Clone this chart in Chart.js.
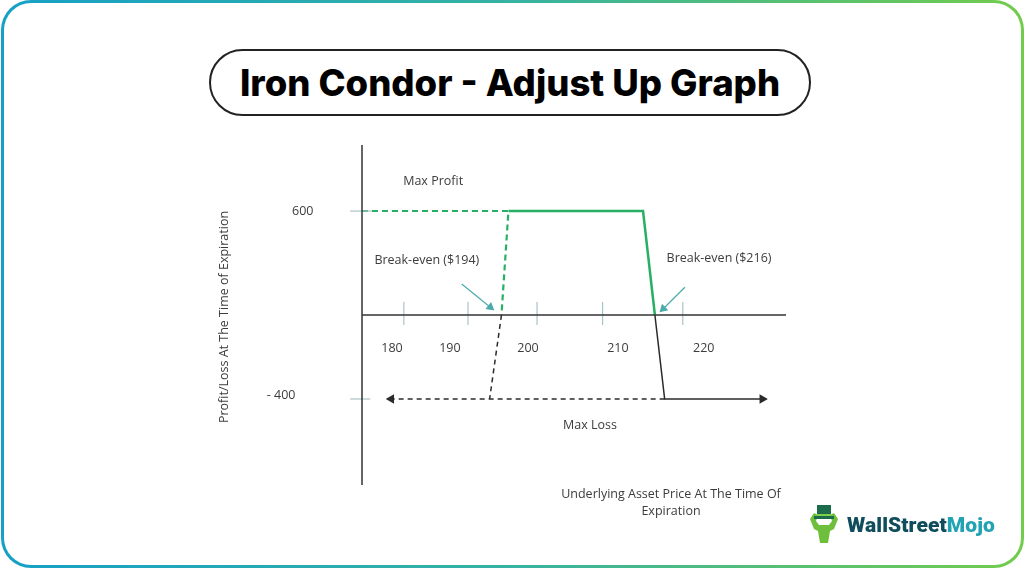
<!DOCTYPE html>
<html>
<head>
<meta charset="utf-8">
<title>Iron Condor - Adjust Up Graph</title>
<script src="https://cdn.jsdelivr.net/npm/chart.js@4.4.1/dist/chart.umd.min.js"></script>
<style>
  html, body { margin: 0; padding: 0; background: #fff; }
  body { width: 1024px; height: 569px; position: relative; overflow: hidden; }
  #frame { position: absolute; left: 1px; top: 0px; width: 1023px; height: 568px; box-sizing: border-box;
    border-radius: 30px; padding: 3px; background: linear-gradient(90deg, #16a0c6 0%, #37b2a2 50%, #72cc4c 100%); }
  #frame div { width: 100%; height: 100%; background: #fff; border-radius: 27px; }
  #title { position: absolute; left: 209px; top: 49px; width: 602px; height: 67px; box-sizing: border-box;
    border: 2px solid #222; border-radius: 34px; display: flex; align-items: center; justify-content: center;
    font-family: Inter, "Open Sans", sans-serif; font-weight: 800; font-size: 36.5px; color: #000; }
  #wrap { position: absolute; left: 0; top: 0; width: 1024px; height: 569px; }
  #logo { position: absolute; left: 804px; top: 503px; height: 44px; display: flex; align-items: center; }
  #logo svg { margin-right: 3px; }
  #logo span { font-family: Roboto, Inter, sans-serif; font-weight: 900; font-size: 21px; letter-spacing: 0.1px; }
  #logo .a { color: #0f4d5c; }
  #logo .b { color: #21a3b3; }
</style>
</head>
<body>
<div id="frame"><div></div></div>
<div id="title">Iron Condor - Adjust Up Graph</div>
<div id="wrap"><canvas id="grafico" width="1024" height="569"></canvas></div>
<div id="logo">
  <svg width="40" height="44" viewBox="0 0 40 44">
    <path d="M6 16 L10 10 L14 12 L12 18 L15 22 L25 22 L28 18 L26 12 L30 10 L34 16 L30 26 L26 28 L24 40 L16 40 L14 28 L10 26 Z" fill="#6dbf3c"/>
    <rect x="13" y="2" width="14" height="12" fill="#1c6b4a"/>
    <rect x="10" y="13" width="20" height="3" fill="#1c6b4a"/>
    <rect x="13" y="11" width="14" height="2" fill="#7fd14a"/>
  </svg>
  <span class="a">WallStreet</span><span class="b">Mojo</span>
</div>
<script>
// valores
var lucroMaximo = 600;
var perdaMaxima = -400;
var breakEvenBaixo = 194;
var breakEvenAlto = 216;

// cantos das linhas (preco, lucro/perda)
var linhaAntigaX = [174, 195, 194];           // trecho verde tracejado
var linhaAntigaY = [600, 600, 0];
var linhaLucroX = [195, 214.3, 216];          // trecho verde continuo
var linhaLucroY = [600, 600, 0];
var perdaTracejadaX = [194, 192.3];
var perdaTracejadaY = [0, -400];
var setaPerdaEsqX = [217.4, 178.2];
var perdaContinuaX = [216, 217.4, 231.4];
var perdaContinuaY = [0, -400, -400];

// eixo e marcas
var precoMin = 174;
var precoMax = 234.8;
var marcasX = [180, 189.2, 199.1, 208.5, 220];
var rotulosX = ["180", "190", "200", "210", "220"];
var posRotulosX = [178.3, 186.6, 197.8, 210.7, 223];
var rotulosY = ["600", "- 400"];

// setas dos break-even
var setaBaixoX = [188.3, 192.4];
var setaBaixoY = [179, 45];
var setaAltoX = [220.3, 217.2];
var setaAltoY = [160, 36];

function pontos(xs, ys) {
  var lista = [];
  for (var i = 0; i < xs.length; i++) {
    lista.push({ x: xs[i], y: ys[i] });
  }
  return lista;
}

var marcas = [];
for (var i = 0; i < marcasX.length; i++) {
  marcas.push({ x: marcasX[i], y: 75 });
  marcas.push({ x: marcasX[i], y: -58 });
  marcas.push({ x: marcasX[i], y: null });
}

var verde = "#27b063";
var preto = "#2b2b2b";
var azul = "#4aacab";
var cinza = "#a9c4c8";

var textos = {
  id: "textos",
  afterDatasetsDraw: function (chart) {
    var ctx = chart.ctx;
    var x = chart.scales.x;
    var yt = chart.scales.y;
    var yb = chart.scales.yBottom;
    ctx.save();
    ctx.fillStyle = "#3c3c3c";
    ctx.textAlign = "center";
    ctx.textBaseline = "middle";
    ctx.font = "12.5px 'Open Sans'";
    for (var i = 0; i < rotulosX.length; i++) {
      ctx.fillText(rotulosX[i], x.getPixelForValue(posRotulosX[i]), yb.getPixelForValue(-157));
    }
    ctx.fillText(rotulosY[0], x.getPixelForValue(165.5), yt.getPixelForValue(lucroMaximo));
    ctx.fillText(rotulosY[1], x.getPixelForValue(162.4), yb.getPixelForValue(-381));
    ctx.fillText("Max Profit", x.getPixelForValue(184.2), yt.getPixelForValue(773));
    ctx.fillText("Break-even ($" + breakEvenBaixo + ")", x.getPixelForValue(183.3), yt.getPixelForValue(317));
    ctx.fillText("Break-even ($" + breakEvenAlto + ")", x.getPixelForValue(225.2), yt.getPixelForValue(329));
    ctx.fillText("Max Loss", x.getPixelForValue(206.7), yb.getPixelForValue(-528));
    ctx.fillText("Underlying Asset Price At The Time Of", 671, 494);
    ctx.fillText("Expiration", 671, 511);
    ctx.translate(224, 317);
    ctx.rotate(-Math.PI / 2);
    ctx.fillText("Profit/Loss At The Time of Expiration", 0, 0);
    ctx.restore();
  }
};

var dados_grafico = {
  type: "scatter",
  data: {
    datasets: [
      { data: [{ x: precoMin, y: 0 }, { x: precoMax, y: 0 }], borderColor: "#333", borderWidth: 1.5 },
      { data: [{ x: precoMin, y: 981 }, { x: precoMin, y: -981 }], borderColor: "#333", borderWidth: 1.5 },
      { data: marcas, borderColor: cinza, borderWidth: 1.2, spanGaps: false },
      { data: [{ x: 172.3, y: lucroMaximo }, { x: 175.4, y: lucroMaximo }], borderColor: cinza, borderWidth: 1.2 },
      { data: [{ x: 172.3, y: perdaMaxima }, { x: 175.2, y: perdaMaxima }], yAxisID: "yBottom", borderColor: cinza, borderWidth: 1.2 },
      { data: pontos(linhaAntigaX, linhaAntigaY), borderColor: verde, borderWidth: 2.2, borderDash: [6, 4] },
      { data: pontos(linhaLucroX, linhaLucroY), borderColor: verde, borderWidth: 2.5 },
      { data: pontos(perdaTracejadaX, perdaTracejadaY), yAxisID: "yBottom", borderColor: preto, borderWidth: 1.5, borderDash: [5, 4] },
      {
        data: pontos(setaPerdaEsqX, [perdaMaxima, perdaMaxima]), yAxisID: "yBottom", borderColor: preto, borderWidth: 1.5,
        borderDash: [5, 4], pointRadius: [0, 4], pointStyle: "triangle", pointRotation: [0, 270],
        pointBackgroundColor: preto, pointBorderColor: preto
      },
      {
        data: pontos(perdaContinuaX, perdaContinuaY), yAxisID: "yBottom", borderColor: preto, borderWidth: 1.5,
        pointRadius: [0, 0, 4], pointStyle: "triangle", pointRotation: [0, 0, 90],
        pointBackgroundColor: preto, pointBorderColor: preto
      },
      {
        data: pontos(setaBaixoX, setaBaixoY), borderColor: azul, borderWidth: 1.2,
        pointRadius: [0, 4], pointStyle: "triangle", pointRotation: [0, 129],
        pointBackgroundColor: azul, pointBorderColor: azul
      },
      {
        data: pontos(setaAltoX, setaAltoY), borderColor: azul, borderWidth: 1.2,
        pointRadius: [0, 4], pointStyle: "triangle", pointRotation: [0, 226],
        pointBackgroundColor: azul, pointBorderColor: azul
      }
    ]
  },
  options: {
    responsive: false,
    animation: false,
    events: [],
    showLine: true,
    clip: false,
    layout: { padding: { left: 362, right: 238, top: 145, bottom: 84 } },
    elements: { point: { radius: 0 }, line: { tension: 0 } },
    plugins: { legend: { display: false }, tooltip: { enabled: false } },
    scales: {
      x: { type: "linear", display: false, min: precoMin, max: precoMax },
      y: { type: "linear", display: false, min: -981, max: 981 },
      yBottom: { type: "linear", display: false, min: -809.5, max: 809.5 }
    }
  },
  plugins: [textos]
};

var ctx = document.getElementById("grafico");
var chart_grafico = new Chart(ctx, dados_grafico);
</script>
</body>
</html>
